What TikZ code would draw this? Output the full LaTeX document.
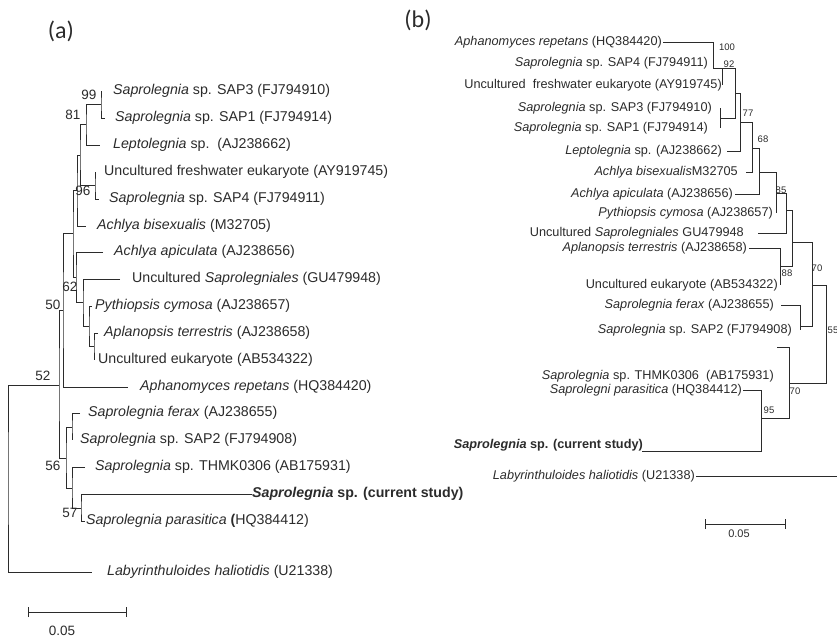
\documentclass[tikz,border=0pt]{standalone}
\usepackage{fontspec}
\setmainfont{Liberation Sans}
\newfontfamily\panelfont{Carlito}
\usetikzlibrary{positioning,arrows.meta}
\definecolor{ink}{HTML}{2B2B2B}
\newcommand{\gen}[1]{\textit{#1}}
\tikzset{
  branch/.style = {draw=ink, line width=0.9pt},
  taxa/.style   = {inner sep=0pt, text=ink, font=\fontsize{14.2}{16}\selectfont},
  taxb/.style   = {inner sep=0pt, text=ink, font=\fontsize{12.7}{14}\selectfont},
  boota/.style  = {inner sep=0pt, text=ink, font=\fontsize{13.5}{15}\selectfont},
  bootb/.style  = {inner sep=0pt, text=ink, font=\fontsize{9.5}{11}\selectfont},
  panel/.style  = {inner sep=0pt, text=ink, font=\panelfont\fontsize{24}{28}\selectfont},
  scalebar/.style = {branch, {Bar[width=10pt]}-{Bar[width=10pt]}}
}
\newcommand{\tipR}[5]{%
  \coordinate (#1) at (#2,#3);
  \node[taxa,right=#4pt of #1] (#1-t) {#5};
}
\newcommand{\tipL}[5]{%
  \coordinate (#1) at (#2,#3);
  \node[taxb,left=#4pt of #1] (#1-t) {#5};
}
\newcommand{\clade}[5]{%
  \coordinate (#1) at (#2,#3);
  \draw[branch] (#4) -| (#1) |- (#5);
}

\begin{document}
\begin{tikzpicture}[x=1pt,y=-1pt]
  \useasboundingbox (0,0) rectangle (837,637);
  \node[panel] (pa) at (61,31) {(a)};
  \node[panel] (pb) at (418,20) {(b)};

  % (a)
  \tipR{sap3a}{101}{91}{12}{\gen{Saprolegnia} sp. SAP3 (FJ794910)}
  \tipR{sap1a}{105}{118}{10}{\gen{Saprolegnia} sp. SAP1 (FJ794914)}
  \tipR{lepa}{100}{145}{13}{\gen{Leptolegnia} sp.\ \ (AJ238662)}
  \tipR{uncfwa}{95}{172}{9}{Uncultured freshwater eukaryote (AY919745)}
  \tipR{sap4a}{99}{199}{10}{\gen{Saprolegnia} sp. SAP4 (FJ794911)}
  \tipR{achbisa}{86}{226}{11}{\gen{Achlya bisexualis} (M32705)}
  \tipR{achapia}{103}{252}{11}{\gen{Achlya apiculata} (AJ238656)}
  \tipR{uncsapa}{120}{279}{12}{Uncultured \gen{Saprolegniales} (GU479948)}
  \tipR{pytha}{92}{306}{3}{\gen{Pythiopsis cymosa} (AJ238657)}
  \tipR{aplana}{98}{333}{6}{\gen{Aplanopsis terrestris} (AJ238658)}
  \tipR{unceuka}{94}{360}{4}{Uncultured eukaryote (AB534322)}
  \tipR{aphana}{128}{387}{12}{\gen{Aphanomyces repetans} (HQ384420)}
  \tipR{feraxa}{80}{413}{8}{\gen{Saprolegnia ferax} (AJ238655)}
  \tipR{sap2a}{72}{440}{8}{\gen{Saprolegnia} sp. SAP2 (FJ794908)}
  \tipR{thmka}{85}{467}{10}{\gen{Saprolegnia} sp. THMK0306 (AB175931)}
  \tipR{curra}{252}{494}{0}{\textbf{\gen{Saprolegnia} sp. (current study)}}
  \tipR{parasa}{85}{521}{1}{\gen{Saprolegnia parasitica} \textbf{(}HQ384412)}
  \tipR{labya}{92}{572}{15}{\gen{Labyrinthuloides haliotidis} (U21338)}

  \clade{n99}{101}{104}{sap3a}{sap1a}
  \clade{n81}{86}{124}{n99}{lepa}
  \clade{n96}{95}{185}{uncfwa}{sap4a}
  \clade{nA}{80}{155}{n81}{n96}
  \clade{nB}{77}{190}{nA}{achbisa}
  \clade{nF}{94}{346}{aplana}{unceuka}
  \clade{nE}{89}{326}{pytha}{nF}
  \clade{nD}{83}{302}{uncsapa}{nE}
  \clade{n62}{76}{277}{achapia}{nD}
  \clade{nC}{73}{233}{nB}{n62}
  \clade{nG}{63}{310}{nC}{aphana}
  \clade{n57}{81}{508}{curra}{parasa}
  \clade{nI}{72}{488}{thmka}{n57}
  \clade{nH}{72}{427}{feraxa}{sap2a}
  \clade{n56}{66}{458}{nH}{nI}
  \clade{n50}{59}{385}{nG}{n56}
  \clade{n52}{8}{478}{n50}{labya}

  \node[boota] (b99) at (89,95) {99};
  \node[boota] (b81) at (73,115) {81};
  \node[boota] (b96) at (83,191) {96};
  \node[boota] (b62) at (70,287) {62};
  \node[boota] (b50) at (53,305) {50};
  \node[boota] (b52) at (43,376) {52};
  \node[boota] (b56) at (53,466) {56};
  \node[boota] (b57) at (70,513) {57};

  \coordinate (sa1) at (28,612);
  \coordinate (sa2) at (127,612);
  \draw[scalebar] (sa1) -- (sa2);
  \node[boota] (sla) at (62,631) {0.05};

  % (b)
  \tipL{aphanb}{663}{42}{1}{\gen{Aphanomyces repetans} (HQ384420)}
  \tipL{sap4b}{713}{63}{5}{\gen{Saprolegnia} sp. SAP4 (FJ794911)}
  \tipL{uncfwb}{722}{85}{0}{Uncultured\ \ freshwater eukaryote (AY919745)}
  \tipL{sap3b}{720}{108}{8}{\gen{Saprolegnia} sp. SAP3 (FJ794910)}
  \tipL{sap1b}{720}{128}{12}{\gen{Saprolegnia} sp. SAP1 (FJ794914)}
  \tipL{lepb}{727}{151}{5}{\gen{Leptolegnia} sp. (AJ238662)}
  \tipL{achbisb}{746}{172}{8}{\gen{Achlya bisexualis}M32705}
  \tipL{achapib}{735}{194}{2}{\gen{Achlya apiculata} (AJ238656)}
  \tipL{pythb}{776}{213}{3}{\gen{Pythiopsis cymosa} (AJ238657)}
  \tipL{uncsapb}{758}{233}{14}{Uncultured \gen{Saprolegniales} GU479948}
  \tipL{aplanb}{749}{248}{2}{\gen{Aplanopsis terrestris} (AJ238658)}
  \tipL{unceukb}{780}{285}{2}{Uncultured eukaryote (AB534322)}
  \tipL{feraxb}{781}{305}{7}{\gen{Saprolegnia ferax} (AJ238655)}
  \tipL{sap2b}{800}{330}{8}{\gen{Saprolegnia} sp. SAP2 (FJ794908)}
  \coordinate (thmkb) at (777,347);
  \node[taxb,anchor=east] (thmkb-t) at (774,376) {\gen{Saprolegnia} sp. THMK0306\ \ (AB175931)};
  \tipL{parasb}{743}{390}{1}{\gen{Saprolegni parasitica} (HQ384412)}
  \coordinate (currb) at (642,451);
  \node[taxb,anchor=east] (currb-t) at (643,445) {\textbf{\gen{Saprolegnia} sp. (current study)}};
  \tipL{labyb}{696}{476}{1}{\gen{Labyrinthuloides haliotidis} (U21338)}
  \coordinate (edgeb) at (837,476);

  \clade{n100}{713}{68}{aphanb}{sap4b}
  \clade{nK}{722}{68}{n100}{uncfwb}
  \clade{n13}{720}{118}{sap3b}{sap1b}
  \clade{n92}{735}{93}{nK}{n13}
  \clade{n77}{740}{122}{n92}{lepb}
  \clade{nL}{752}{148}{n77}{achbisb}
  \clade{n68}{759}{172}{nL}{achapib}
  \clade{n85}{776}{193}{n68}{pythb}
  \clade{nM}{786}{210}{n85}{uncsapb}
  \clade{n88}{780}{266}{aplanb}{unceukb}
  \clade{nN}{792}{242}{nM}{n88}
  \clade{nO}{800}{326}{feraxb}{sap2b}
  \clade{n70a}{812}{285}{nN}{nO}
  \clade{n95}{761}{418}{parasb}{currb}
  \clade{n70b}{789}{383}{thmkb}{n95}
  \clade{n55}{826}{334}{n70a}{n70b}
  \draw[branch] (labyb) -- (edgeb);

  \node[bootb] (b100) at (727,47) {100};
  \node[bootb] (b92) at (729,64) {92};
  \node[bootb] (b77) at (748,113) {77};
  \node[bootb] (b68) at (763,139) {68};
  \node[bootb] (b85) at (781,190) {85};
  \node[bootb] (b88) at (787,273) {88};
  \node[bootb] (b70a) at (817,268) {70};
  \node[bootb] (b55) at (833,330) {55};
  \node[bootb] (b70b) at (795,391) {70};
  \node[bootb] (b95) at (769,410) {95};

  \coordinate (sb1) at (705,524);
  \coordinate (sb2) at (786,524);
  \draw[scalebar] (sb1) -- (sb2);
  \node[bootb,font=\fontsize{11}{13}\selectfont] (slb) at (739,534) {0.05};
\end{tikzpicture}
\end{document}
